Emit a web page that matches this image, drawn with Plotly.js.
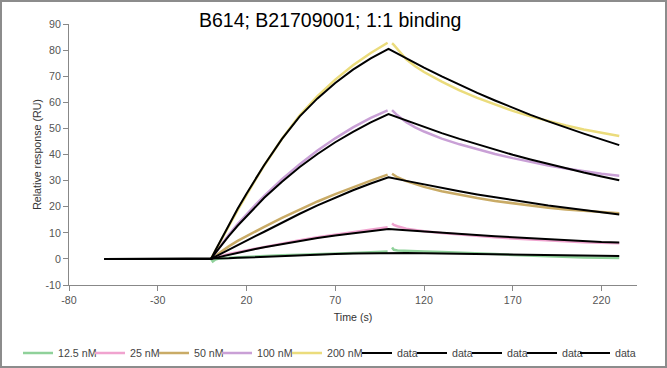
<!DOCTYPE html>
<html>
<head>
<meta charset="utf-8">
<script src="https://cdn.plot.ly/plotly-3.0.1.min.js"></script>
<style>
html,body{margin:0;padding:0;background:#fff;}
#wrap{position:relative;width:667px;height:368px;}
#chart{width:667px;height:368px;}
#frame{position:absolute;left:0;top:0;width:667px;height:368px;box-sizing:border-box;border:2px solid #8c8c8c;pointer-events:none;}
</style>
</head>
<body>
<div id="wrap"><div id="chart"></div><div id="frame"></div></div>
<script>
// ---- data ----
var seriesNames = ["12.5 nM", "25 nM", "50 nM", "100 nM", "200 nM"];
var seriesColors = ["#8fd19a", "#f0a3cf", "#c9ab66", "#c9a0d6", "#ebdc7c"];

// measured sensorgram time points (s); null value marks the injection gap
var timeData = [0, 1, 2.5, 5, 10, 15, 20, 25, 30, 40, 50, 60, 70, 80, 90, 99.5, 101, 102, 103, 105, 110, 115, 120, 130, 140, 150, 160, 170, 180, 190, 200, 210, 220, 230];

var data12_5 = [0, -1.0, -0.2, 0.2, 0.4, 0.6, 0.8, 1.0, 1.1, 1.4, 1.6, 1.9, 2.1, 2.3, 2.5, 2.8, null, 4.4, 3.5, 3.2, 3.0, 2.9, 2.8, 2.6, 2.4, 2.2, 1.9, 1.5, 1.2, 0.9, 0.7, 0.5, 0.4, 0.3];
var data25   = [0, 0.2, 0.6, 1.1, 1.9, 2.6, 3.3, 4.0, 4.7, 6.0, 7.2, 8.3, 9.3, 10.3, 11.2, 12.1, null, 13.6, 13.0, 12.5, 11.6, 11.1, 10.6, 9.9, 9.3, 8.8, 8.3, 7.8, 7.4, 7.0, 6.7, 6.4, 6.2, 6.0];
var data50   = [0, 0.5, 1.3, 2.5, 4.8, 6.9, 8.8, 10.6, 12.3, 15.7, 18.9, 22.0, 24.8, 27.5, 30.0, 32.3, null, 32.6, 32.1, 31.3, 29.8, 28.6, 27.6, 25.9, 24.5, 23.3, 22.2, 21.3, 20.4, 19.6, 18.9, 18.4, 17.9, 17.5];
var data100  = [0, 0.9, 2.4, 4.8, 9.2, 13.3, 17.1, 20.7, 24.1, 30.5, 36.3, 41.5, 46.2, 50.4, 54.0, 56.9, null, 57.0, 56.2, 55.0, 52.4, 50.4, 48.8, 46.1, 43.9, 42.0, 40.2, 38.6, 37.1, 35.8, 34.6, 33.5, 32.6, 31.9];
var data200  = [0, 1.2, 3.0, 6.2, 12.5, 18.7, 24.6, 30.3, 35.8, 46.0, 55.0, 62.4, 68.7, 74.2, 78.9, 82.8, null, 82.6, 82.0, 80.4, 76.5, 73.8, 71.6, 67.9, 64.6, 61.7, 59.1, 56.7, 54.6, 52.8, 51.1, 49.6, 48.3, 47.1];

// 1:1 binding fit curves
var timeFit = [-60, 0, 2.5, 5, 10, 15, 20, 25, 30, 40, 50, 60, 70, 80, 90, 100, 110, 120, 130, 140, 150, 160, 170, 180, 190, 200, 210, 220, 230];
var fit12_5 = [0, 0, 0.05, 0.1, 0.25, 0.4, 0.55, 0.7, 0.85, 1.1, 1.35, 1.6, 1.85, 2.05, 2.2, 2.35, 2.25, 2.15, 2.05, 1.95, 1.85, 1.75, 1.65, 1.55, 1.45, 1.35, 1.25, 1.15, 1.08];
var fit25   = [0, 0, 0.4, 0.8, 1.6, 2.3, 3.1, 3.8, 4.5, 5.7, 6.9, 8.0, 9.0, 9.9, 10.7, 11.5, 11.0, 10.5, 10.0, 9.5, 9.1, 8.7, 8.3, 7.9, 7.5, 7.2, 6.9, 6.5, 6.3];
var fit50   = [0, 0, 0.9, 1.8, 3.6, 5.3, 7.0, 8.7, 10.4, 13.9, 17.3, 20.5, 23.5, 26.3, 28.9, 31.3, 29.9, 28.5, 27.2, 25.9, 24.7, 23.6, 22.5, 21.5, 20.5, 19.6, 18.7, 17.8, 17.0];
var fit100  = [0, 0, 2.3, 4.5, 8.7, 12.7, 16.4, 20.0, 23.4, 29.6, 35.2, 40.2, 44.7, 48.7, 52.3, 55.5, 53.0, 50.5, 48.2, 46.0, 43.9, 41.9, 39.9, 38.1, 36.4, 34.7, 33.1, 31.6, 30.1];
var fit200  = [0, 0, 3.3, 6.6, 13.0, 19.2, 25.0, 30.6, 36.0, 46.0, 54.6, 61.5, 67.4, 72.5, 76.8, 80.5, 76.8, 73.3, 69.9, 66.7, 63.6, 60.7, 57.9, 55.2, 52.7, 50.3, 48.0, 45.8, 43.6];
var fitName = "data";

var xTicks = [-80, -30, 20, 70, 120, 170, 220];
var xTickLabels = ["-80", "-30", "20", "70", "120", "170", "220"];
var yTicks = [-10, 0, 10, 20, 30, 40, 50, 60, 70, 80, 90];
var yTickLabels = ["-10", "0", "10", "20", "30", "40", "50", "60", "70", "80", "90"];

// ---- build ----
var dataSeries = [data12_5, data25, data50, data100, data200];
var fitSeries = [fit12_5, fit25, fit50, fit100, fit200];
var FONT = "Liberation Sans, Arial, sans-serif";
var traces = [];
var legendKeys = [];
for (var i = 0; i < 5; i++) {
  var key = i === 0 ? "legend" : "legend" + (i + 1);
  legendKeys.push(key);
  traces.push({x: timeData, y: dataSeries[i], type: "scatter", mode: "lines", name: seriesNames[i],
    line: {color: seriesColors[i], width: 2.5}, connectgaps: false, legend: key});
}
for (var j = 0; j < 5; j++) {
  var key2 = "legend" + (j + 6);
  legendKeys.push(key2);
  traces.push({x: timeFit, y: fitSeries[j], type: "scatter", mode: "lines", name: fitName,
    line: {color: "#000000", width: 2}, legend: key2});
}

var textStarts = [58, 130, 194, 257, 327, 397, 452, 507, 562, 615];
var layout = {
  width: 667, height: 368,
  margin: {l: 69, r: 30, t: 24, b: 83},
  paper_bgcolor: "#ffffff", plot_bgcolor: "#ffffff",
  font: {family: FONT, size: 10.67, color: "#444"},
  title: {text: "B614; B21709001; 1:1 binding", font: {family: FONT, size: 19.5, color: "#000"},
    x: 0.495, xref: "container", xanchor: "center", y: 0.944, yref: "container", yanchor: "middle"},
  xaxis: {range: [-80, 240], tickvals: xTicks, ticktext: xTickLabels, showgrid: false, zeroline: false,
    showline: true, linecolor: "#888", linewidth: 1, ticks: "outside", ticklen: 5, tickcolor: "#888",
    tickfont: {size: 10.67, color: "#555"},
    title: {text: "Time (s)", font: {size: 10.67, color: "#333"}, standoff: 8}},
  yaxis: {range: [-10, 90], tickvals: yTicks, ticktext: yTickLabels, showgrid: false, zeroline: false,
    showline: true, linecolor: "#888", linewidth: 1, ticks: "outside", ticklen: 5, tickcolor: "#888",
    tickfont: {size: 10.67, color: "#555"},
    title: {text: "Relative response (RU)", font: {size: 10.67, color: "#333"}, standoff: 1}},
  showlegend: true
};
for (var k = 0; k < legendKeys.length; k++) {
  layout[legendKeys[k]] = {x: (textStarts[k] - 40) / 667, xref: "container", xanchor: "left",
    y: 1 - 353 / 368, yref: "container", yanchor: "middle", orientation: "h",
    bgcolor: "rgba(0,0,0,0)", borderwidth: 0, font: {family: FONT, size: 10.67, color: "#444"}};
}
Plotly.newPlot("chart", traces, layout, {displayModeBar: false, staticPlot: true});
</script>
</body>
</html>
